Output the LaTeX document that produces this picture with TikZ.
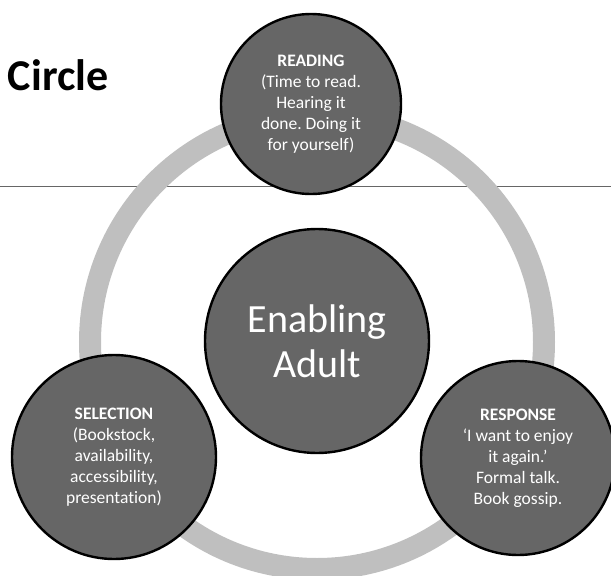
\documentclass[tikz,border=0pt]{standalone}
\usepackage{fontspec}
\setmainfont[Ligatures=NoCommon]{Carlito}
\definecolor{ringgray}{HTML}{BFBFBF}
\definecolor{bubblefill}{HTML}{666666}
\definecolor{rulegray}{HTML}{666666}
\tikzset{
  bubble/.style={circle, draw=black, line width=2.4pt, fill=bubblefill, text=white,
    inner sep=0pt, align=center, font=\fontsize{17.5}{21}\selectfont},
  ringstyle/.style={draw=ringgray, line width=22pt},
  rulestyle/.style={draw=rulegray, line width=1.5pt}
}
\frenchspacing
\begin{document}
\begin{tikzpicture}[x=1pt,y=-1pt]
\useasboundingbox (0,0) rectangle (611,576);
\coordinate (ruleL) at (0,186.5);
\coordinate (ruleR) at (611,186.5);
\draw[rulestyle] (ruleL) -- (ruleR);
\coordinate (ringc) at (317,342);
\draw[ringstyle] (ringc) circle[radius=227pt];
\node[anchor=base east, font=\bfseries\fontsize{44}{50}\selectfont] (title) at (112,90) {Circle};
\node[bubble, minimum size=180pt] (reading) at (311,104)
  {\textbf{READING}\\(Time to read.\\Hearing it\\done. Doing it\\for yourself)};
\node[bubble, minimum size=224pt, font=\fontsize{40}{45}\selectfont] (adult) at (317,341)
  {Enabling\\Adult};
\node[bubble, minimum size=204pt] (selection) at (114,457)
  {\textbf{SELECTION}\\(Bookstock,\\availability,\\accessibility,\\presentation)};
\node[bubble, minimum size=194pt] (response) at (518,458)
  {\textbf{RESPONSE}\\‘I want to enjoy\\it again.’\\Formal talk.\\Book gossip.};
\end{tikzpicture}
\end{document}
